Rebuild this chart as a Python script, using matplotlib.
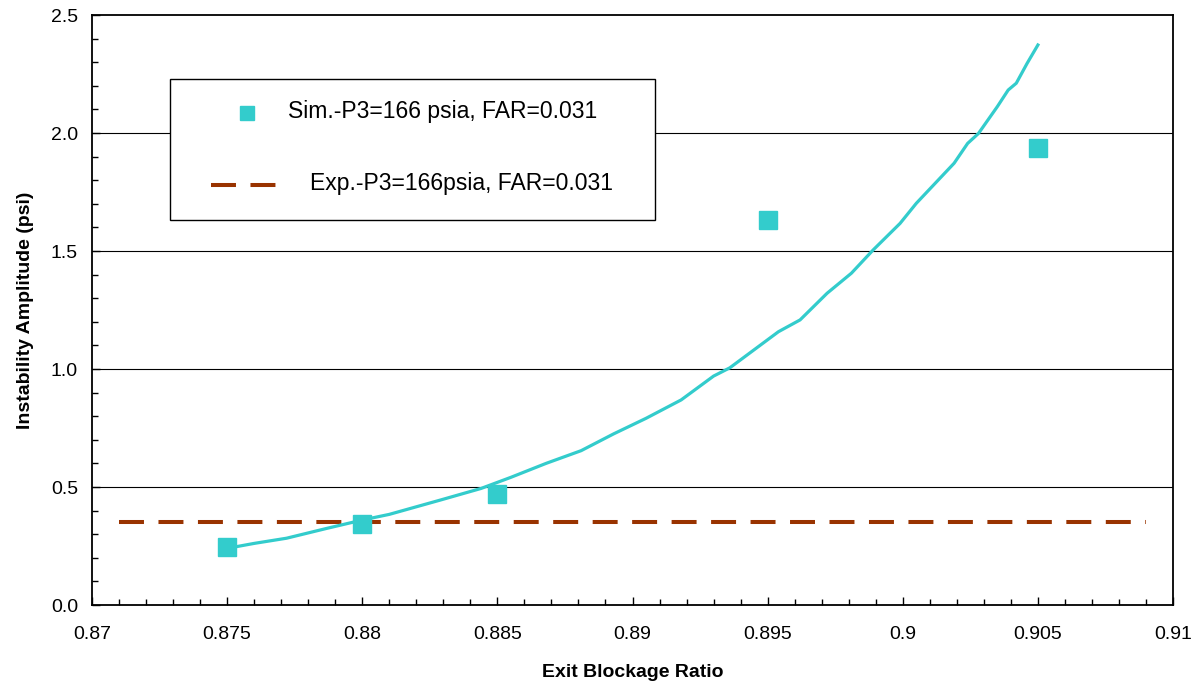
import numpy as np
import matplotlib
matplotlib.use('Agg')
import matplotlib.pyplot as plt
from matplotlib.ticker import MultipleLocator
from matplotlib.patches import Rectangle

plt.rcParams['font.family'] = ['Liberation Sans', 'DejaVu Sans']

# simulated points
sim_x = [0.875, 0.88, 0.885, 0.895, 0.905]
sim_y = [0.245, 0.345, 0.47, 1.633, 1.937]

# fitted curve
fit_x = [0.8750, 0.8760, 0.8772, 0.8787, 0.8800, 0.8810, 0.8829, 0.8844,
         0.8855, 0.8868, 0.8881, 0.8893, 0.8905, 0.8918, 0.8930, 0.8936,
         0.8954, 0.8962, 0.8972, 0.8981, 0.8989, 0.8999, 0.9005, 0.9012,
         0.9019, 0.9024, 0.9028, 0.9035, 0.9039, 0.9042, 0.9046, 0.9050]
fit_y = [0.240, 0.261, 0.283, 0.325, 0.360, 0.384, 0.445, 0.494,
         0.541, 0.600, 0.654, 0.725, 0.791, 0.869, 0.970, 1.005,
         1.158, 1.208, 1.321, 1.406, 1.504, 1.617, 1.702, 1.787,
         1.872, 1.956, 1.998, 2.112, 2.182, 2.211, 2.295, 2.373]

# experimental level
exp_x = [0.871, 0.909]
exp_y = [0.35, 0.35]

x_ticks = [0.87, 0.875, 0.88, 0.885, 0.89, 0.895, 0.9, 0.905, 0.91]
x_labels = ['0.87', '0.875', '0.88', '0.885', '0.89', '0.895', '0.9', '0.905', '0.91']
y_ticks = [0.0, 0.5, 1.0, 1.5, 2.0, 2.5]

cyan = '#33CCCC'
brown = '#993300'

fig = plt.figure(figsize=(11.96, 6.82), dpi=100)
ax = fig.add_axes([0.0769, 0.1129, 0.9039, 0.8651])

for g in y_ticks[1:-1]:
    ax.axhline(g, color='black', lw=0.8, zorder=1)

ax.plot(exp_x, exp_y, color=brown, lw=2.9, dashes=(6.2, 3.6), zorder=2)
ax.plot(fit_x, fit_y, color=cyan, lw=2.3, zorder=3)
ax.plot(sim_x, sim_y, 's', color=cyan, ms=12.5, mec=cyan, zorder=4)

ax.set_xlim(0.87, 0.91)
ax.set_ylim(0, 2.5)
ax.set_xticks(x_ticks)
ax.set_xticklabels(x_labels)
ax.set_yticks(y_ticks)
ax.set_yticklabels(['%.1f' % v for v in y_ticks])
ax.xaxis.set_minor_locator(MultipleLocator(0.001))
ax.yaxis.set_minor_locator(MultipleLocator(0.1))
ax.tick_params(which='both', direction='in', labelsize=14, width=1)
ax.tick_params(which='major', length=6)
ax.tick_params(which='minor', length=4)
ax.tick_params(axis='y', pad=10)
ax.tick_params(axis='x', pad=15)
ax.tick_params(top=False, right=False, which='both')
for s in ax.spines.values():
    s.set_linewidth(1.3)

ax.set_xlabel('Exit Blockage Ratio', fontsize=14, fontweight='bold', labelpad=15)
ax.set_ylabel('Instability Amplitude (psi)', fontsize=14, fontweight='bold', labelpad=12)

# legend box drawn by hand to keep Excel-like spacing
ax.add_patch(Rectangle((0.0722, 0.6525), 0.4486, 0.239, transform=ax.transAxes,
                       facecolor='white', edgecolor='black', lw=1.0, zorder=5))
ax.plot([0.1434], [0.8339], 's', color=cyan, ms=10, transform=ax.transAxes, zorder=6)
ax.text(0.1813, 0.8356, 'Sim.-P3=166 psia, FAR=0.031', transform=ax.transAxes,
        fontsize=16.5, va='center', ha='left', zorder=6)
ax.plot([0.1101, 0.1702], [0.7119, 0.7119], color=brown, lw=2.9, dashes=(6.2, 3.6),
        transform=ax.transAxes, zorder=6)
ax.text(0.2017, 0.7136, 'Exp.-P3=166psia, FAR=0.031', transform=ax.transAxes,
        fontsize=16.5, va='center', ha='left', zorder=6)

fig.savefig('out.png', dpi=100)
